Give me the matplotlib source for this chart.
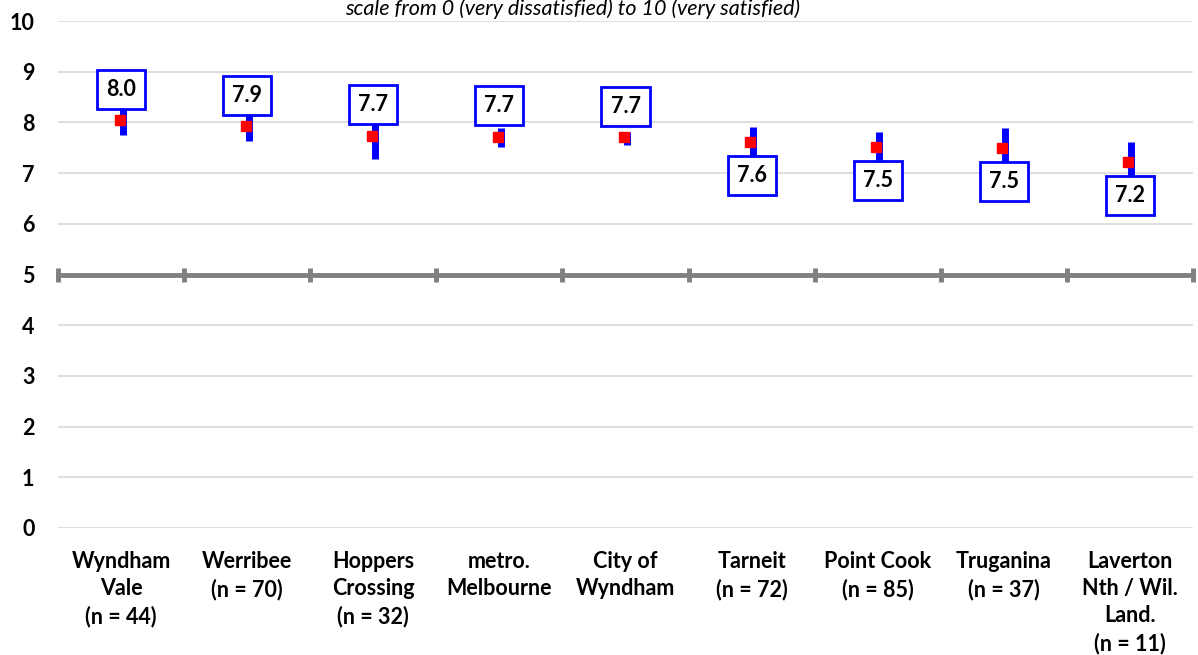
import numpy as np
import matplotlib
matplotlib.use("Agg")
import matplotlib.pyplot as plt
from matplotlib.transforms import ScaledTranslation

# ---- data ----
categories = ["Wyndham\nVale\n(n = 44)", "Werribee\n(n = 70)", "Hoppers\nCrossing\n(n = 32)",
              "metro.\nMelbourne", "City of\nWyndham", "Tarneit\n(n = 72)",
              "Point Cook\n(n = 85)", "Truganina\n(n = 37)", "Laverton\nNth / Wil.\nLand.\n(n = 11)"]
means = [8.04, 7.92, 7.74, 7.72, 7.71, 7.61, 7.52, 7.49, 7.21]
ci_low = [7.75, 7.63, 7.28, 7.51, 7.55, 7.32, 7.25, 7.09, 6.81]
ci_high = [8.33, 8.21, 8.20, 7.89, 7.82, 7.90, 7.81, 7.89, 7.61]
label_side = ["above", "above", "above", "above", "above", "below", "below", "below", "below"]
title = "scale from 0 (very dissatisfied) to 10 (very satisfied)"

plt.rcParams['font.family'] = ['Lato', 'DejaVu Sans']

W, H = 1198, 655
fig = plt.figure(figsize=(W / 100, H / 100), dpi=100)
ax = fig.add_axes([58 / W, 1 - 528 / H, (1193 - 58) / W, (528 - 21) / H])

n = len(categories)
x = np.arange(n)
ax.set_xlim(-0.5, n - 0.5)
ax.set_ylim(0, 10)

# gridlines
ax.set_yticks(range(0, 11))
ax.yaxis.grid(True, color='#d9d9d9', lw=1.2)
ax.set_axisbelow(True)
ax.tick_params(axis='y', length=0, pad=17, labelsize=15.5)
for t in ax.get_yticklabels():
    t.set_fontweight('bold')

for s in ['left', 'right', 'top']:
    ax.spines[s].set_visible(False)
ax.spines['bottom'].set_position(('data', 5))
ax.spines['bottom'].set_color('#808080')
ax.spines['bottom'].set_linewidth(3.5)
ax.spines['bottom'].set_zorder(2.5)

ax.set_xticks(x)
ax.tick_params(axis='x', which='major', length=0, labelbottom=False)
ax.set_xticks(np.arange(n + 1) - 0.5, minor=True)
ax.tick_params(axis='x', which='minor', direction='inout', length=9.5, width=3.5, color='#808080')

sec = ax.secondary_xaxis(0)
sec.set_xticks(x, labels=categories)
sec.tick_params(length=0, pad=16.5, labelsize=15.5)
sec.spines['bottom'].set_visible(False)
for t in sec.get_xticklabels():
    t.set_fontweight('bold')
    t.set_linespacing(1.37)

# error bars and means
bar_tr = ax.transData + ScaledTranslation(1.5 / 100, 0, fig.dpi_scale_trans)
ax.vlines(x, ci_low, ci_high, colors='#0000ff', lw=5, transform=bar_tr, zorder=3)
mk_tr = ax.transData + ScaledTranslation(-1.5 / 100, 0, fig.dpi_scale_trans)
ax.plot(x, means, 's', color='#ff0000', ms=6.5, transform=mk_tr, zorder=4)

pad = 0.42
fs = 15.5
for i, m in enumerate(means):
    if label_side[i] == "above":
        off, va = 8 + pad * fs, 'bottom'
    else:
        off, va = -(10 + pad * fs), 'top'
    ax.annotate(f"{m:.1f}", xy=(i, m), xytext=(0, off), textcoords='offset points',
                ha='center', va=va, fontsize=fs, fontweight='bold', zorder=5,
                bbox=dict(boxstyle=f'square,pad={pad}', fc='white', ec='#0000ff', lw=2))

fig.text(573 / W, 1 - 15 / H, title, ha='center', va='baseline', fontsize=15.5, style='italic')

fig.savefig("out.png", dpi=100)
